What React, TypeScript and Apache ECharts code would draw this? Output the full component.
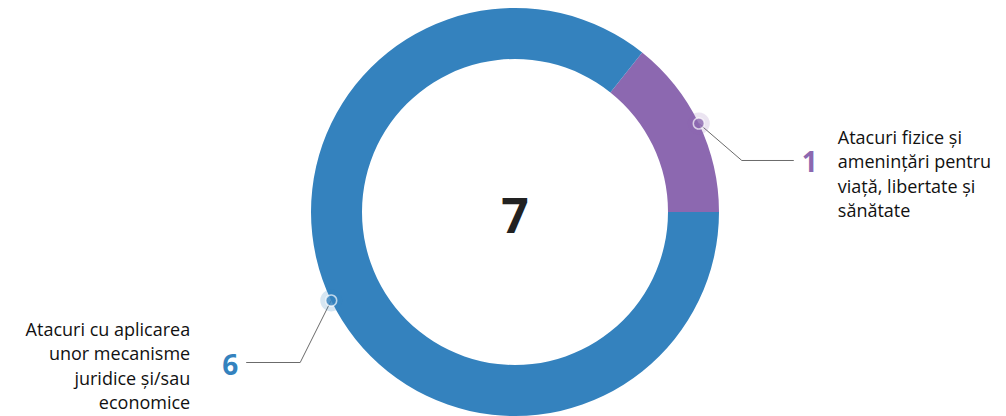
import React, { useEffect, useRef } from "react";
import * as echarts from "echarts";

const categories = [
  "Atacuri fizice și amenințări pentru viață, libertate și sănătate",
  "Atacuri cu aplicarea unor mecanisme juridice și/sau economice",
];
const labelTexts = [
  "Atacuri fizice și\namenințări pentru\nviață, libertate și\nsănătate",
  "Atacuri cu aplicarea\nunor mecanisme\njuridice și/sau\neconomice",
];
const values = [1, 6];
const colors = ["#8C68B0", "#3482BE"];
const haloColors = ["rgba(140,104,176,0.22)", "rgba(52,130,190,0.25)"];

const CX = 515;
const CY = 212;
const R_OUT = 204;
const R_IN = 153;
const FONT = "'Open Sans', 'Noto Sans', sans-serif";

function linePath(p0: number[]) {
  const right = p0[0] > CX;
  const bend = right ? [p0[0] + 43, p0[1] + 37] : [p0[0] - 31, p0[1] + 62];
  const end = right ? [bend[0] + 52, bend[1]] : [bend[0] - 54, bend[1]];
  return { right, bend, end };
}

export default function App() {
  const ref = useRef<HTMLDivElement>(null);
  useEffect(() => {
    if (!ref.current) return;
    const chart = echarts.init(ref.current, null, { renderer: "svg" });
    const total = values.reduce((a, b) => a + b, 0);
    const startAngle = (360 * values[0]) / total;
    const mids: number[] = [];
    let acc = 0;
    values.forEach((v) => {
      mids.push(acc + v / 2);
      acc += v;
    });
    const pieData = values.map((v, i) => ({
      value: v,
      name: categories[i],
      itemStyle: { color: colors[i] },
      label: { color: colors[i] },
    }));
    chart.setOption({
      animation: false,
      polar: { center: [CX, CY], radius: R_OUT },
      angleAxis: {
        type: "value",
        min: 0,
        max: total,
        startAngle,
        clockwise: true,
        show: false,
      },
      radiusAxis: { type: "value", min: 0, max: 1, show: false },
      graphic: [
        {
          type: "text",
          x: CX,
          y: CY + 2,
          style: {
            text: String(total),
            fill: "#222222",
            font: `bold 48px ${FONT}`,
            align: "center",
            verticalAlign: "middle",
          },
          z: 10,
        },
      ],
      series: [
        {
          type: "pie",
          center: [CX, CY],
          radius: [R_IN, R_OUT],
          startAngle,
          clockwise: true,
          silent: true,
          data: pieData,
          label: {
            show: true,
            position: "outside",
            formatter: "{c}",
            fontFamily: FONT,
            fontWeight: "bold",
            fontSize: 28,
          },
          labelLine: {
            show: true,
            lineStyle: { color: "#6b6b6b", width: 1 },
          },
          labelLayout: (params: any) => {
            const p0 = params.labelLinePoints[0];
            const { right, bend, end } = linePath(p0);
            return {
              x: end[0] + (right ? 8 : -8),
              y: bend[1] + 1,
              align: right ? "left" : "right",
              verticalAlign: "middle",
              labelLinePoints: [p0, bend, end],
            };
          },
        },
        {
          type: "pie",
          center: [CX, CY],
          radius: [R_IN, R_OUT],
          startAngle,
          clockwise: true,
          silent: true,
          z: 1,
          data: values.map((v, i) => ({
            value: v,
            name: labelTexts[i],
            itemStyle: { color: "rgba(0,0,0,0)" },
            label: { align: i === 0 ? "left" : "right" },
          })),
          label: {
            show: true,
            position: "outside",
            formatter: "{b}",
            fontFamily: FONT,
            fontSize: 18,
            lineHeight: 24.5,
            color: "#111111",
          },
          labelLine: { show: true, lineStyle: { opacity: 0, width: 0 } },
          labelLayout: (params: any) => {
            const p0 = params.labelLinePoints[0];
            const { right, bend, end } = linePath(p0);
            return {
              x: right ? end[0] + 44 : end[0] - 56,
              y: right ? bend[1] + 13 : bend[1] + 3,
              align: right ? "left" : "right",
              verticalAlign: "middle",
            };
          },
        },
        {
          type: "scatter",
          coordinateSystem: "polar",
          silent: true,
          symbolSize: 22,
          z: 5,
          data: mids.map((m, i) => ({
            value: [1, m],
            itemStyle: { color: haloColors[i] },
          })),
        },
        {
          type: "scatter",
          coordinateSystem: "polar",
          silent: true,
          symbolSize: 11,
          z: 6,
          data: mids.map((m, i) => ({
            value: [1, m],
            itemStyle: {
              color: colors[i],
              borderColor: "rgba(255,255,255,0.85)",
              borderWidth: 1.5,
            },
          })),
        },
      ],
    });
    return () => chart.dispose();
  }, []);
  return (
    <div
      ref={ref}
      style={{ position: "fixed", left: 0, top: 0, width: 1006, height: 416, background: "#fff" }}
    />
  );
}
